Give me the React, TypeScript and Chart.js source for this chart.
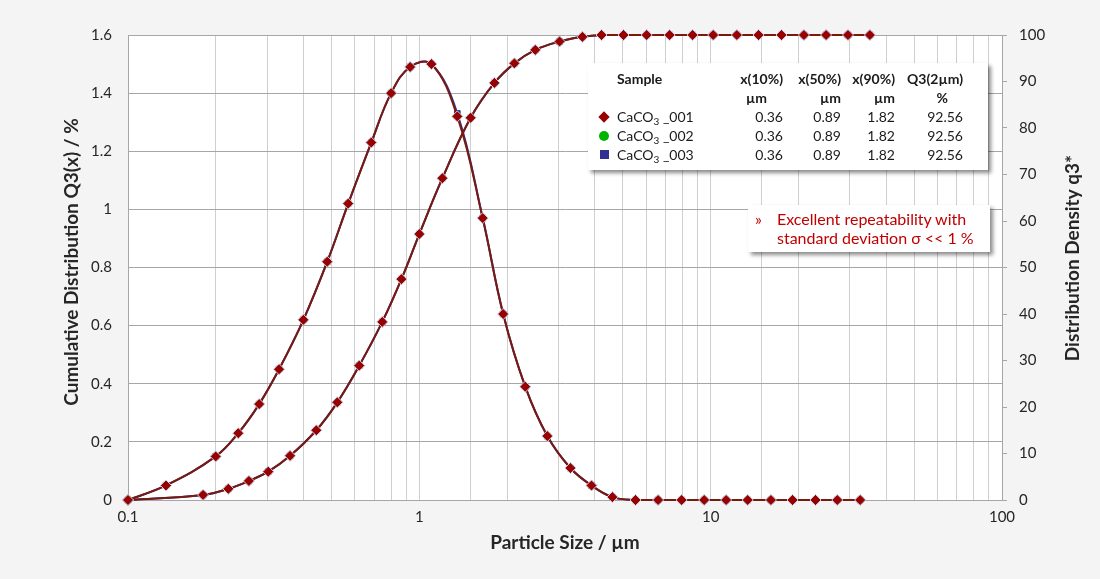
import React, { useEffect, useRef } from 'react';
import { Chart, registerables } from 'chart.js';

Chart.register(...registerables);

// ---- Data ----
const densitySizes = [0.1, 0.135, 0.2, 0.239, 0.282, 0.33, 0.4, 0.483, 0.57, 0.684, 0.8, 0.93, 1.1, 1.35, 1.65, 1.94, 2.31, 2.75, 3.3, 3.9, 4.6, 5.52, 6.6, 7.95, 9.5, 11.3, 13.4, 16.1, 19.1, 22.9, 27.2, 32.6];
const densityValues = [0, 0.05, 0.15, 0.23, 0.33, 0.45, 0.62, 0.82, 1.02, 1.23, 1.4, 1.49, 1.5, 1.32, 0.97, 0.64, 0.39, 0.22, 0.11, 0.05, 0.01, 0, 0, 0, 0, 0, 0, 0, 0, 0, 0, 0];
const densityValues003 = [0, 0.05, 0.15, 0.23, 0.33, 0.45, 0.62, 0.82, 1.02, 1.23, 1.4, 1.49, 1.5, 1.33, 0.97, 0.64, 0.39, 0.22, 0.11, 0.05, 0.01, 0, 0, 0, 0, 0, 0, 0, 0, 0, 0, 0];

const cumulativeSizes = [0.1, 0.181, 0.221, 0.26, 0.303, 0.36, 0.443, 0.523, 0.622, 0.746, 0.868, 1.0, 1.2, 1.5, 1.81, 2.12, 2.5, 3.03, 3.63, 4.22, 5.02, 6.03, 7.23, 8.67, 10.2, 12.3, 14.6, 17.5, 20.9, 24.9, 29.6, 35.2];
const cumulativeValues = [0, 1.1, 2.4, 4.1, 6.1, 9.5, 15.0, 21.0, 28.9, 38.3, 47.5, 57.2, 69.2, 82.2, 89.7, 93.9, 96.8, 98.6, 99.6, 100, 100, 100, 100, 100, 100, 100, 100, 100, 100, 100, 100, 100];

const xMajorLabels = [0.1, 1, 10, 100];

const xTitle = 'Particle Size / µm';
const leftTitle = 'Cumulative Distribution Q3(x) / %';
const rightTitle = 'Distribution Density q3*';

const sampleIds = ['_001', '_002', '_003'];
const sampleColors = ['#990000', '#00b400', '#2e3192'];
const sampleMarkers = ['diamond', 'circle', 'square'];
const x10Values = ['0.36', '0.36', '0.36'];
const x50Values = ['0.89', '0.89', '0.89'];
const x90Values = ['1.82', '1.82', '1.82'];
const q3Values = ['92.56', '92.56', '92.56'];

const FONT = 'Lato, "Open Sans", sans-serif';
const LINE_COLOR = '#7a1a0e';
const TEXT_COLOR = '#262626';
const TITLE_SIZE = 19;

function toPoints(xs: number[], ys: number[]) {
  return xs.map((x, i) => ({ x, y: ys[i] }));
}

function Marker({ kind, color }: { kind: string; color: string }) {
  if (kind === 'diamond') {
    return <span style={{ display: 'inline-block', width: 8, height: 8, background: color, transform: 'rotate(45deg)' }} />;
  }
  if (kind === 'circle') {
    return <span style={{ display: 'inline-block', width: 10, height: 10, borderRadius: '50%', background: color }} />;
  }
  return <span style={{ display: 'inline-block', width: 9, height: 9, background: color }} />;
}

export default function App() {
  const canvasRef = useRef<HTMLCanvasElement | null>(null);

  useEffect(() => {
    if (!canvasRef.current) return;
    const lineCommon = {
      showLine: true,
      tension: 0.4,
      borderWidth: 2,
      clip: false as any,
      pointRadius: 5.5,
      pointBorderWidth: 1,
    };
    const chart = new Chart(canvasRef.current, {
      type: 'scatter',
      data: {
        datasets: [
          {
            ...lineCommon,
            label: 'q3 001',
            data: toPoints(densitySizes, densityValues),
            yAxisID: 'y',
            order: 0,
            borderColor: LINE_COLOR,
            backgroundColor: '#990000',
            pointBorderColor: '#c5cde0',
            pointStyle: 'rectRot',
          },
          {
            ...lineCommon,
            label: 'Q3 001',
            data: toPoints(cumulativeSizes, cumulativeValues),
            yAxisID: 'y1',
            order: 0,
            borderColor: LINE_COLOR,
            backgroundColor: '#990000',
            pointBorderColor: '#c5cde0',
            pointStyle: 'rectRot',
          },
          {
            ...lineCommon,
            label: 'q3 003',
            data: toPoints(densitySizes, densityValues003),
            yAxisID: 'y',
            order: 1,
            borderColor: '#2e3192',
            backgroundColor: '#2e3192',
            pointBorderColor: '#2e3192',
            pointStyle: 'rect',
            pointRadius: 4,
          },
          {
            ...lineCommon,
            label: 'Q3 003',
            data: toPoints(cumulativeSizes, cumulativeValues),
            yAxisID: 'y1',
            order: 1,
            borderColor: '#2e3192',
            backgroundColor: '#2e3192',
            pointBorderColor: '#2e3192',
            pointStyle: 'rect',
            pointRadius: 4,
          },
        ],
      },
      options: {
        responsive: false,
        animation: false,
        layout: { padding: { top: 35, left: 0, right: 0, bottom: 0 } },
        plugins: {
          legend: { display: false },
          tooltip: { enabled: false },
        },
        scales: {
          x: {
            type: 'logarithmic',
            position: 'bottom',
            min: 0.1,
            max: 100,
            afterFit: (s: any) => {
              s.height = 79;
            },
            ticks: {
              autoSkip: false,
              maxRotation: 0,
              padding: 8,
              color: TEXT_COLOR,
              font: { family: FONT, size: 15 },
              callback: (v: any) => {
                const n = Number(v);
                const hit = xMajorLabels.find((m) => Math.abs(Math.log10(n) - Math.log10(m)) < 1e-6);
                return hit !== undefined ? String(hit) : '';
              },
            },
            grid: {
              color: '#cfcfcf',
              lineWidth: 1,
              drawTicks: false,
            },
            border: { display: true, color: '#a6a6a6' },
            title: {
              display: true,
              text: xTitle,
              color: TEXT_COLOR,
              font: { family: FONT, size: TITLE_SIZE, weight: 'bold' },
              padding: { top: 0, bottom: 25 },
            },
          },
          y: {
            position: 'left',
            min: 0,
            max: 1.6,
            afterFit: (s: any) => {
              s.width = 128;
            },
            ticks: {
              stepSize: 0.2,
              padding: 16,
              color: TEXT_COLOR,
              font: { family: FONT, size: 15 },
              callback: (v: any) => String(Number(Number(v).toFixed(1))),
            },
            grid: { color: '#a6a6a6', lineWidth: 1, drawTicks: false },
            border: { display: true, color: '#a6a6a6' },
          },
          y1: {
            position: 'right',
            min: 0,
            max: 100,
            afterFit: (s: any) => {
              s.width = 98;
            },
            ticks: {
              stepSize: 10,
              padding: 12,
              color: TEXT_COLOR,
              font: { family: FONT, size: 15 },
            },
            grid: { drawOnChartArea: false, drawTicks: true, tickLength: 5, color: '#a6a6a6' },
            border: { display: true, color: '#a6a6a6' },
          },
        },
      } as any,
      plugins: [
        {
          id: 'plotBg',
          beforeDraw: (c: any) => {
            const { ctx, chartArea } = c;
            ctx.save();
            ctx.fillStyle = '#ffffff';
            ctx.fillRect(chartArea.left, chartArea.top, chartArea.right - chartArea.left, chartArea.bottom - chartArea.top);
            ctx.restore();
          },
        },
        {
          id: 'yTitles',
          afterDraw: (c: any) => {
            const { ctx } = c;
            ctx.save();
            ctx.fillStyle = TEXT_COLOR;
            ctx.font = `bold ${TITLE_SIZE}px ${FONT}`;
            ctx.textAlign = 'center';
            ctx.textBaseline = 'middle';
            ctx.translate(72, 262);
            ctx.rotate(-Math.PI / 2);
            ctx.fillText(leftTitle, 0, 0);
            ctx.restore();
            ctx.save();
            ctx.fillStyle = TEXT_COLOR;
            ctx.font = `bold ${TITLE_SIZE}px ${FONT}`;
            ctx.textAlign = 'center';
            ctx.textBaseline = 'middle';
            ctx.translate(1073, 258);
            ctx.rotate(-Math.PI / 2);
            ctx.fillText(rightTitle, 0, 0);
            ctx.restore();
          },
        },
      ],
    });
    return () => chart.destroy();
  }, []);

  const cell = (extra: React.CSSProperties = {}): React.CSSProperties => ({
    position: 'absolute',
    whiteSpace: 'nowrap',
    ...extra,
  });

  return (
    <div style={{ position: 'fixed', left: 0, top: 0, width: 1100, height: 579, background: '#f4f4f4', fontFamily: FONT }}>
      <canvas ref={canvasRef} width={1100} height={579} style={{ display: 'block', width: 1100, height: 579 }} />

      {/* Results table box */}
      <div
        style={{
          position: 'absolute',
          left: 588,
          top: 63,
          width: 400,
          height: 107,
          background: '#ffffff',
          boxShadow: '3px 3px 4px rgba(0,0,0,0.45)',
          fontSize: 14,
          color: '#1a1a1a',
          lineHeight: '19px',
        }}
      >
        <div style={cell({ left: 29, top: 6, fontWeight: 'bold' })}>Sample</div>
        <div style={cell({ right: 205, top: 6, fontWeight: 'bold' })}>x(10%)</div>
        <div style={cell({ right: 147, top: 6, fontWeight: 'bold' })}>x(50%)</div>
        <div style={cell({ right: 93, top: 6, fontWeight: 'bold' })}>x(90%)</div>
        <div style={cell({ right: 25, top: 6, fontWeight: 'bold' })}>Q3(2µm)</div>
        <div style={cell({ right: 221, top: 25, fontWeight: 'bold' })}>µm</div>
        <div style={cell({ right: 147, top: 25, fontWeight: 'bold' })}>µm</div>
        <div style={cell({ right: 93, top: 25, fontWeight: 'bold' })}>µm</div>
        <div style={cell({ right: 40, top: 25, fontWeight: 'bold' })}>%</div>
        {sampleIds.map((id, i) => {
          const top = 44 + i * 19;
          return (
            <React.Fragment key={id}>
              <div style={cell({ left: 10, top: top, width: 12, height: 19, display: 'flex', alignItems: 'center', justifyContent: 'center' })}>
                <Marker kind={sampleMarkers[i]} color={sampleColors[i]} />
              </div>
              <div style={cell({ left: 29, top })}>
                CaCO<sub style={{ fontSize: 10, verticalAlign: 'baseline', position: 'relative', top: 3 }}>3</sub> {id}
              </div>
              <div style={cell({ right: 205, top })}>{x10Values[i]}</div>
              <div style={cell({ right: 147, top })}>{x50Values[i]}</div>
              <div style={cell({ right: 93, top })}>{x90Values[i]}</div>
              <div style={cell({ right: 25, top })}>{q3Values[i]}</div>
            </React.Fragment>
          );
        })}
      </div>

      {/* Note box */}
      <div
        style={{
          position: 'absolute',
          left: 748,
          top: 205,
          width: 242,
          height: 47,
          background: '#ffffff',
          boxShadow: '3px 3px 4px rgba(0,0,0,0.45)',
          fontSize: 16,
          color: '#c00000',
          lineHeight: '19px',
        }}
      >
        <div style={cell({ left: 7, top: 4 })}>»</div>
        <div style={cell({ left: 29, top: 4 })}>Excellent repeatability with</div>
        <div style={cell({ left: 29, top: 23 })}>standard deviation σ &lt;&lt; 1 %</div>
      </div>
    </div>
  );
}
